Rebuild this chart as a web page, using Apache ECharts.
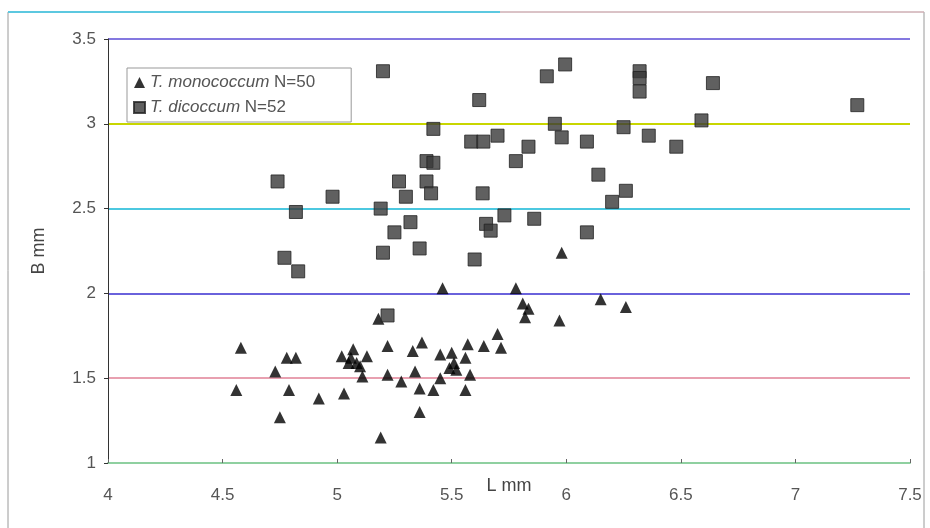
<!DOCTYPE html>
<html>
<head>
    <meta charset="utf-8">
    <title>L vs B</title>
    <script src="https://cdn.jsdelivr.net/npm/echarts@6/dist/echarts.min.js"></script>
</head>
<body style="margin:0px;background-color:#fff;">
    <div id="main" style="width: 930px;height:528px;"></div>
    <script type="text/javascript">
        // T. monococcum (triangles): L mm, B mm
        var monoL = [4.58, 4.56, 4.73, 4.78, 4.82, 4.79, 4.75, 4.92, 5.03, 5.02,
                     5.07, 5.05, 5.085, 5.13, 5.11, 5.19, 5.22, 5.22, 5.28, 5.33,
                     5.37, 5.34, 5.36, 5.36, 5.42, 5.45, 5.45, 5.50, 5.51, 5.49,
                     5.52, 5.57, 5.56, 5.58, 5.56, 5.64, 5.70, 5.715, 5.18, 5.46,
                     5.78, 5.98, 6.15, 6.26, 5.81, 5.835, 5.82, 5.97, 5.06, 5.10];
        var monoB = [1.68, 1.43, 1.54, 1.62, 1.62, 1.43, 1.27, 1.38, 1.41, 1.63,
                     1.67, 1.59, 1.59, 1.63, 1.51, 1.15, 1.69, 1.52, 1.48, 1.66,
                     1.71, 1.54, 1.44, 1.30, 1.43, 1.64, 1.50, 1.65, 1.59, 1.56,
                     1.55, 1.70, 1.62, 1.52, 1.43, 1.69, 1.76, 1.68, 1.85, 2.03,
                     2.03, 2.24, 1.965, 1.92, 1.94, 1.91, 1.86, 1.84, 1.62, 1.57];

        // T. dicoccum (squares)
        var dicL = [5.20, 5.62, 5.42, 5.585, 5.638, 5.70, 5.39, 5.42, 4.74, 5.27,
                    5.39, 5.41, 5.30, 4.98, 5.635, 4.82, 5.19, 5.73, 5.32, 5.25,
                    5.65, 5.67, 5.78, 5.915, 5.995, 6.32, 6.32, 6.32, 6.64, 7.27,
                    5.95, 5.98, 5.835, 6.09, 6.25, 6.36, 6.48, 6.59, 6.14, 6.26,
                    6.20, 5.86, 6.09, 5.20, 5.36, 4.77, 4.83, 5.22, 5.60];
        var dicB = [3.31, 3.14, 2.97, 2.895, 2.895, 2.93, 2.78, 2.77, 2.66, 2.66,
                    2.66, 2.59, 2.57, 2.57, 2.59, 2.48, 2.50, 2.46, 2.42, 2.36,
                    2.41, 2.37, 2.78, 3.28, 3.35, 3.31, 3.27, 3.19, 3.24, 3.11,
                    3.00, 2.92, 2.865, 2.895, 2.98, 2.93, 2.865, 3.02, 2.70, 2.605,
                    2.54, 2.44, 2.36, 2.24, 2.265, 2.21, 2.13, 1.87, 2.20];

        var FONT = 'Liberation Sans, Arial, sans-serif';

        function pairs(xs, ys) {
            var out = [];
            for (var i = 0; i < xs.length; i++) {
                out.push([xs[i], ys[i]]);
            }
            return out;
        }

        var myChart = echarts.init(document.getElementById('main'));

        var option = {
            backgroundColor: '#fff',
            animation: false,
            graphic: [{
                type: 'rect',
                shape: { x: 8, y: 12, width: 916, height: 520 },
                style: { fill: 'none', stroke: '#9a9a9a', lineWidth: 1 },
                silent: true
            }, {
                type: 'line',
                shape: { x1: 8, y1: 12, x2: 500, y2: 12 },
                style: { stroke: '#5cc8e0', lineWidth: 2 },
                silent: true
            }, {
                type: 'line',
                shape: { x1: 500, y1: 12, x2: 924, y2: 12 },
                style: { stroke: '#e8b8c0', lineWidth: 1 },
                silent: true
            }],
            grid: { left: 108, right: 20, top: 39, bottom: 65 },
            legend: {
                orient: 'vertical',
                left: 127,
                top: 68,
                padding: [6, 36, 6, 6],
                itemGap: 8,
                itemWidth: 11,
                itemHeight: 11,
                borderColor: '#999',
                borderWidth: 1,
                backgroundColor: '#fff',
                formatter: function (name) {
                    var parts = name.split('|');
                    return '{i|' + parts[0] + '} ' + parts[1];
                },
                textStyle: {
                    fontFamily: FONT,
                    fontSize: 17,
                    color: '#555',
                    rich: {
                        i: { fontStyle: 'italic', fontSize: 17, color: '#555', fontFamily: FONT }
                    }
                },
                data: [
                    { name: 'T. monococcum|N=50', icon: 'triangle' },
                    { name: 'T. dicoccum|N=52', icon: 'rect' }
                ]
            },
            xAxis: {
                type: 'value',
                min: 4,
                max: 7.5,
                interval: 0.5,
                name: 'L mm',
                nameLocation: 'middle',
                nameGap: 14,
                nameMoveOverlap: false,
                nameTextStyle: { fontSize: 18, color: '#444', fontFamily: FONT, verticalAlign: 'top' },
                axisLine: { onZero: false, lineStyle: { color: '#8fd0a0', width: 2 } },
                axisTick: { show: true, inside: true, length: 4, lineStyle: { color: '#666' } },
                axisLabel: {
                    margin: 24,
                    fontSize: 17,
                    color: '#555',
                    fontFamily: FONT
                },
                splitLine: { show: false }
            },
            yAxis: {
                type: 'value',
                min: 1,
                max: 3.5,
                interval: 0.5,
                name: 'B mm',
                nameLocation: 'middle',
                nameGap: 60,
                nameMoveOverlap: false,
                nameTextStyle: { fontSize: 18, color: '#444', fontFamily: FONT },
                axisLine: { show: true, lineStyle: { color: '#333', width: 1 } },
                axisTick: { show: true, length: 4, lineStyle: { color: '#333' } },
                axisLabel: {
                    margin: 12,
                    fontSize: 17,
                    color: '#555',
                    fontFamily: FONT
                },
                splitLine: {
                    show: true,
                    lineStyle: {
                        width: 2,
                        color: ['#8fd0a0', '#e8a0b0', '#6a62dc', '#4cc8e0', '#c8d600', '#8478e0']
                    }
                }
            },
            series: [{
                name: 'T. monococcum|N=50',
                type: 'scatter',
                symbol: 'triangle',
                symbolSize: 12,
                itemStyle: { color: '#000' },
                data: pairs(monoL, monoB)
            }, {
                name: 'T. dicoccum|N=52',
                type: 'scatter',
                symbol: 'rect',
                symbolSize: 13,
                itemStyle: { color: '#383838', borderColor: '#222', borderWidth: 1 },
                data: pairs(dicL, dicB)
            }]
        };

        myChart.setOption(option);
    </script>
</body>
</html>
